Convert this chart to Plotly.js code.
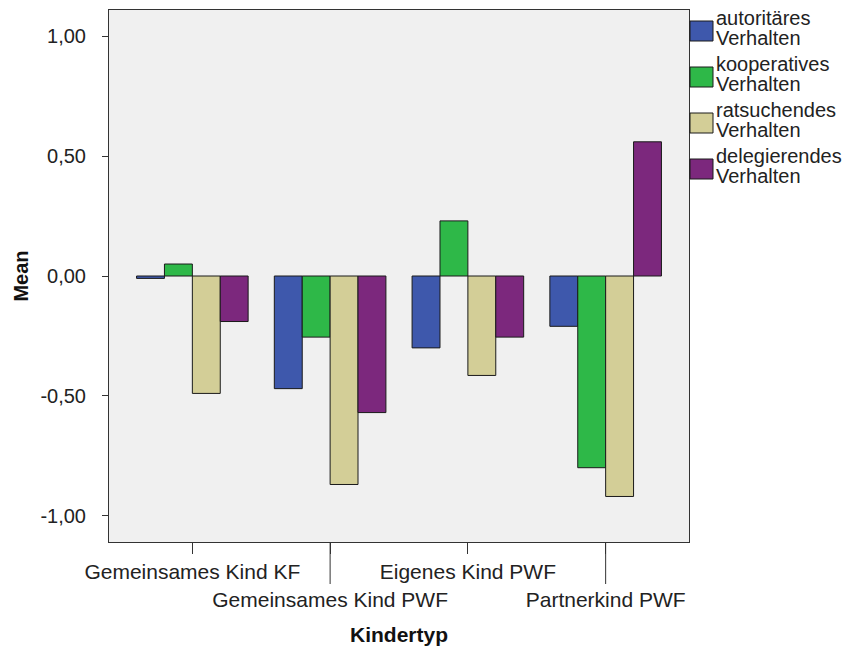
<!DOCTYPE html>
<html>
<head>
<meta charset="utf-8">
<script src="https://cdn.plot.ly/plotly-3.0.1.min.js"></script>
<style>html,body{margin:0;padding:0;background:#fff;}#chart{width:850px;height:649px;}</style>
</head>
<body>
<div id="chart"></div>
<script>
const categories = ["Gemeinsames Kind KF", "Gemeinsames Kind PWF", "Eigenes Kind PWF", "Partnerkind PWF"];
const seriesNames = ["autoritäres Verhalten", "kooperatives Verhalten", "ratsuchendes Verhalten", "delegierendes Verhalten"];
const autoritaer = [-0.01, -0.47, -0.30, -0.21];
const kooperativ = [0.05, -0.255, 0.23, -0.80];
const ratsuchend = [-0.49, -0.87, -0.415, -0.92];
const delegierend = [-0.19, -0.57, -0.255, 0.56];
const colors = ["#3E58AC", "#2EB848", "#D3CE97", "#7C287D"];
const yTicks = [-1, -0.5, 0, 0.5, 1];

const W = 850, H = 649;
const M = {l: 109, r: 161, t: 10, b: 107};
const plotW = W - M.l - M.r, plotH = H - M.t - M.b;
const px2x = p => (p - M.l) / plotW;          // pixel -> paper x
const px2y = p => 1 - (p - M.t) / plotH;      // pixel -> paper y

const values = [autoritaer, kooperativ, ratsuchend, delegierend];
const traces = values.map((v, i) => ({
  type: "bar",
  x: categories,
  y: v,
  name: seriesNames[i],
  showlegend: false,
  marker: {color: colors[i], line: {color: "#1a1a1a", width: 1}}
}));

// staggered tick labels: every second label on a lower line
const tickText = categories.map((c, i) => (i % 2 === 1 ? "<br>" + c : c));
const shapes = categories.filter((c, i) => i % 2 === 1).map(c => ({
  type: "line", xref: "x", yref: "paper", x0: c, x1: c, y0: 0, y1: px2y(584),
  line: {color: "#333", width: 1}
}));

const font = "Liberation Sans, Arial, sans-serif";
const annotations = [];
// custom legend (two-line entries with tight spacing, as in the reference)
seriesNames.forEach((name, i) => {
  const top = 21 + i * 46;
  shapes.push({
    type: "rect", xref: "paper", yref: "paper",
    x0: px2x(690), x1: px2x(713), y0: px2y(top), y1: px2y(top + 20),
    fillcolor: colors[i], line: {color: "#1a1a1a", width: 1}, layer: "above"
  });
  const words = name.split(" ");
  words.forEach((w, j) => {
    annotations.push({
      xref: "paper", yref: "paper", x: px2x(714), y: px2y(top - 3 + j * 20),
      xanchor: "left", yanchor: "middle", showarrow: false, text: w,
      font: {family: font, size: 20, color: "#222"}
    });
  });
});

const layout = {
  width: W, height: H,
  margin: M,
  paper_bgcolor: "#ffffff",
  plot_bgcolor: "#F0F0F0",
  font: {family: font, color: "#222", size: 20},
  barmode: "group",
  bargap: 0.19,
  bargroupgap: 0,
  showlegend: false,
  xaxis: {
    type: "category",
    range: [-0.605, 3.605],
    tickvals: categories, ticktext: tickText, tickangle: 0,
    ticks: "outside", ticklen: 11, tickcolor: "#333",
    tickfont: {family: font, size: 21, color: "#222"},
    showline: true, mirror: true, linecolor: "#333", linewidth: 1,
    showgrid: false, zeroline: false,
    title: {text: "Kindertyp", font: {family: font, size: 21, color: "#111", weight: "bold"}, standoff: 17}
  },
  yaxis: {
    range: [-1.11, 1.11],
    tickvals: yTicks, ticktext: yTicks.map(v => v.toFixed(2).replace(".", ",")),
    ticks: "outside", ticklen: 6, tickcolor: "#333",
    ticklabelstandoff: 12,
    tickfont: {family: font, size: 20, color: "#222"},
    showline: true, mirror: true, linecolor: "#333", linewidth: 1,
    showgrid: false, zeroline: false,
    title: {text: "Mean", font: {family: font, size: 20, color: "#111", weight: "bold"}, standoff: 6}
  },
  shapes: shapes,
  annotations: annotations
};

Plotly.newPlot("chart", traces, layout, {displayModeBar: false, staticPlot: true});
</script>
</body>
</html>
